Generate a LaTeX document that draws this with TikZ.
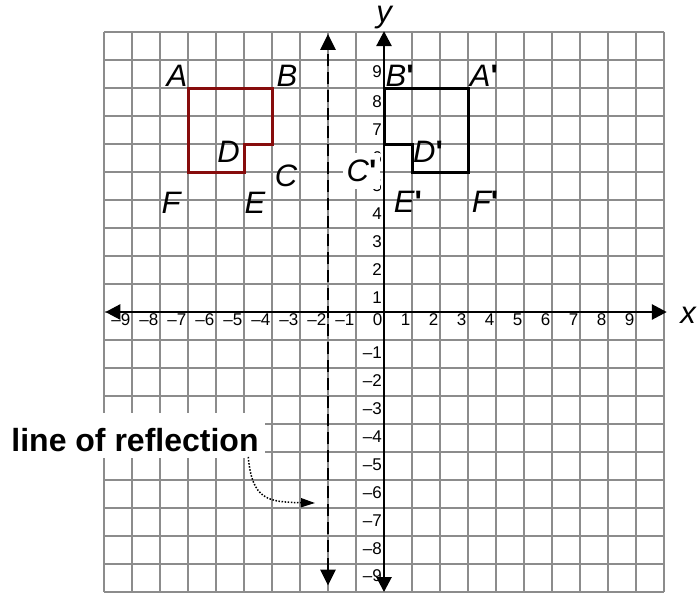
\documentclass[tikz,border=0pt]{standalone}
\usepackage{fontspec}
\setmainfont{Liberation Sans}
\usetikzlibrary{arrows.meta}
\font\primefnt="Liberation Sans/B" at 31pt
\newcommand\pr{{\primefnt\char"27}}
\definecolor{gridgray}{RGB}{140,140,140}
\definecolor{shapered}{RGB}{135,12,12}
\tikzset{
  gridline/.style={gridgray, line width=1.6pt},
  axisline/.style={line width=2.8pt, {Triangle[length=15pt,width=15pt]}-{Triangle[length=15pt,width=15pt]}},
  reflline/.style={line width=2.8pt, dash pattern=on 12pt off 6pt, {Triangle[length=16pt,width=15pt]}-{Triangle[length=16pt,width=15pt]}},
  shapeline/.style={line width=3pt, line join=miter},
  ticklbl/.style={font=\fontsize{17}{20}\selectfont, inner sep=0pt, anchor=east},
  ptlabel/.style={font=\fontsize{31}{36}\selectfont\itshape, inner sep=0pt},
  lorlabel/.style={font=\fontsize{32}{38}\selectfont\bfseries, inner sep=0pt},
  dotline/.style={line width=1.5pt, dash pattern=on 1.5pt off 1.6pt, -{Triangle[length=14pt,width=9pt]}}
}
\begin{document}
\begin{tikzpicture}[x=1pt, y=-1pt]
\useasboundingbox (0,0) rectangle (699,592);
\begin{scope}[shift={(384,312)}, x=28pt, y=28pt]
  % grid
  \foreach \i in {-10,...,10} {
    \draw[gridline] (\i,-10) -- (\i,10);
    \draw[gridline] (-10,\i) -- (10,\i);
  }
  % figures
  \draw[shapeline, shapered] (-7,8) -- (-4,8) -- (-4,6) -- (-5,6) -- (-5,5) -- (-7,5) -- cycle;
  \draw[shapeline, black] (0,8) -- (3,8) -- (3,5) -- (1,5) -- (1,6) -- (0,6) -- cycle;
  % line of reflection
  \draw[reflline] (-2,-9.77) -- (-2,9.93);
  % axes
  \draw[axisline] (-9.95,0) -- (10.1,0);
  \draw[axisline] (0,-10) -- (0,10.03);
  % x tick labels
  \foreach \n in {-9,...,9} {
    \pgfmathtruncatemacro\m{abs(\n)}
    \node[ticklbl] (xl\n) at (\n-0.055,-0.286) {\ifnum\n<0 \textendash\fi\m};
  }
  % y tick labels
  \foreach \n in {1,...,8} {
    \node[ticklbl] (yl\n) at (-0.07,\n-0.48) {\n};
  }
  \node[ticklbl] (yl9) at (-0.07,8.6) {9};
  \foreach \n in {1,...,8} {
    \node[ticklbl] (ylm\n) at (-0.07,-\n-0.46) {\textendash\n};
  }
  \node[ticklbl] (ylm9) at (-0.07,-9.4) {\textendash9};
\end{scope}
% axis names
\node[ptlabel] (xname) at (688,315) {x};
\node[ptlabel] (yname) at (384,18) {y};
% original figure labels
\node[ptlabel] (A) at (177,76) {A};
\node[ptlabel] (B) at (287,76) {B};
\node[ptlabel] (C) at (286,176) {C};
\node[ptlabel] (D) at (228.5,151.5) {D};
\node[ptlabel] (E) at (255,203) {E};
\node[ptlabel] (F) at (171,203) {F};
% image labels
\node[ptlabel] (Bp) at (399.7,76) {B\pr};
\node[ptlabel] (Ap) at (484,76) {A\pr};
\node[ptlabel] (Dp) at (428,151.5) {D\pr};
\node[ptlabel] (Ep) at (408,202) {E\pr};
\node[ptlabel] (Fp) at (485,202) {F\pr};
\node[ptlabel, fill=white, minimum width=37pt, minimum height=36pt] (Cp) at (361.5,171) {C\pr};
% line of reflection label
\fill[white] (0,413) rectangle (265,458);
\node[lorlabel] (lor) at (135,440) {line of reflection};
\coordinate (lortip) at (315,503);
\draw[dotline] ([xshift=-10.5pt, yshift=-5pt]lor.south east) .. controls (252,500) and (268,502) .. (lortip);
\end{tikzpicture}
\end{document}
